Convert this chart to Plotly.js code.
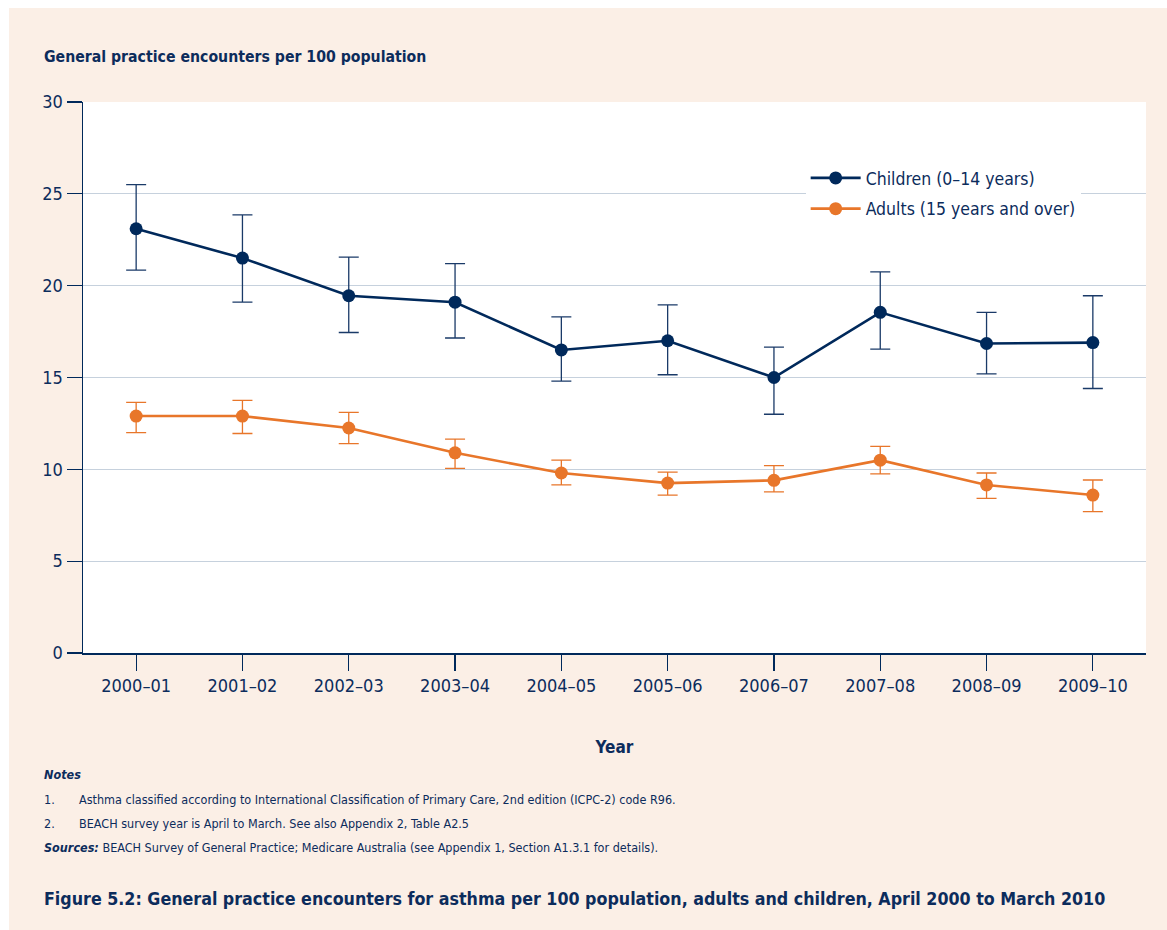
<!DOCTYPE html>
<html>
<head>
<meta charset="utf-8">
<script src="https://cdn.plot.ly/plotly-3.0.1.min.js"></script>
<style>
  html, body { margin: 0; padding: 0; background: #ffffff; width: 1167px; height: 930px; overflow: hidden; }
  #chart { position: absolute; left: 9px; top: 8px; width: 1158px; height: 922px; }
</style>
</head>
<body>
<div id="chart"></div>
<script>
// ---- data ----
const years = ['2000–01', '2001–02', '2002–03', '2003–04', '2004–05', '2005–06', '2006–07', '2007–08', '2008–09', '2009–10'];

const childrenRate  = [23.1, 21.5, 19.45, 19.1, 16.5, 17.0, 15.0, 18.55, 16.85, 16.9];
const childrenUpper = [25.5, 23.85, 21.55, 21.2, 18.3, 18.95, 16.65, 20.75, 18.55, 19.45];
const childrenLower = [20.85, 19.1, 17.45, 17.15, 14.8, 15.15, 13.0, 16.55, 15.2, 14.4];

const adultsRate  = [12.9, 12.9, 12.25, 10.9, 9.8, 9.25, 9.4, 10.5, 9.15, 8.6];
const adultsUpper = [13.65, 13.75, 13.1, 11.65, 10.5, 9.85, 10.2, 11.25, 9.8, 9.42];
const adultsLower = [12.0, 11.95, 11.4, 10.05, 9.15, 8.6, 8.77, 9.75, 8.42, 7.7];

const seriesNames = ['Children (0–14 years)', 'Adults (15 years and over)'];
const yTicks = [0, 5, 10, 15, 20, 25, 30];

// ---- styles ----
const NAVY = '#00295b';
const NAVY_ERR = '#1a3a68';
const ORANGE = '#e8762a';
const TEXT = '#0c2c5c';
const GRID = '#c6d1dd';
const PEACH = '#fbefe6';
const FONT = '"DejaVu Sans Condensed", "Liberation Sans", sans-serif';

// geometry of the container (page pixels)
const divLeft = 9, divTop = 8, W = 1158, H = 922;
const plotL = 83, plotR = 1146.5, plotT = 102, plotB = 652.6;
const px = x => (x - plotL) / (plotR - plotL);
const py = y => (plotB - y) / (plotB - plotT);

function trace(name, vals, upper, lower, color, errColor) {
  return {
    type: 'scatter', mode: 'lines+markers', name: name,
    x: years, y: vals,
    line: { color: color, width: 2.6 },
    marker: { color: color, size: 13 },
    error_y: {
      type: 'data', symmetric: false,
      array: upper.map((u, i) => u - vals[i]),
      arrayminus: lower.map((l, i) => vals[i] - l),
      color: errColor, thickness: 1.3, width: 10
    },
    legendgroup: name
  };
}

const data = [
  trace(seriesNames[0], childrenRate, childrenUpper, childrenLower, NAVY, NAVY_ERR),
  trace(seriesNames[1], adultsRate, adultsUpper, adultsLower, ORANGE, ORANGE)
];

const ann = (text, xPage, yPage, size, extra) => Object.assign({
  text: text, xref: 'paper', yref: 'paper', x: px(xPage), y: py(yPage),
  xanchor: 'left', yanchor: 'middle', showarrow: false,
  font: { family: FONT, size: size, color: TEXT }
}, extra || {});

const layout = {
  width: W, height: H,
  paper_bgcolor: PEACH, plot_bgcolor: '#ffffff',
  margin: { l: plotL - divLeft, r: W - (plotR - divLeft), t: plotT - divTop, b: H - (plotB - divTop), pad: 0 },
  font: { family: FONT, color: TEXT, size: 18 },
  showlegend: true,
  legend: {
    x: px(806), y: py(160), xanchor: 'left', yanchor: 'top',
    bgcolor: '#ffffff', borderwidth: 0,
    font: { family: FONT, size: 17.5, color: TEXT },
    traceorder: 'grouped', tracegroupgap: 5, itemwidth: 50
  },
  xaxis: {
    type: 'category', range: [-0.5, 9.5], tickvals: years,
    showline: true, linecolor: NAVY, linewidth: 1.5,
    ticks: 'outside', ticklen: 16, tickwidth: 1.3, tickcolor: NAVY,
    showgrid: false, zeroline: false,
    tickfont: { family: FONT, size: 18, color: TEXT },
    ticklabelstandoff: 0,
    title: { text: '<b>Year</b>', font: { family: FONT, size: 17, color: TEXT }, standoff: 46 }
  },
  yaxis: {
    range: [0, 30], tickvals: yTicks,
    showline: true, linecolor: NAVY, linewidth: 1.5,
    ticks: 'outside', ticklen: 15, tickwidth: 1.3, tickcolor: NAVY,
    showgrid: true, gridcolor: GRID, gridwidth: 1, zeroline: false,
    tickfont: { family: FONT, size: 18, color: TEXT }
  },
  annotations: [
    ann('<b>General practice encounters per 100 population</b>', 42, 57, 15.7),
    ann('<b><i>Notes</i></b>', 42, 774, 12.5),
    ann('1.', 42, 799, 12.5),
    ann('Asthma classified according to International Classification of Primary Care, 2nd edition (ICPC-2) code R96.', 77, 799, 12.5),
    ann('2.', 42, 823, 12.5),
    ann('BEACH survey year is April to March. See also Appendix 2, Table A2.5', 77, 823, 12.5),
    ann('<b><i>Sources:</i></b> BEACH Survey of General Practice; Medicare Australia (see Appendix 1, Section A1.3.1 for details).', 42, 847, 12.5),
    ann('<b>Figure 5.2: General practice encounters for asthma per 100 population, adults and children, April 2000 to March 2010</b>', 42, 898, 17.7)
  ]
};

Plotly.newPlot('chart', data, layout, { displayModeBar: false, staticPlot: true });
</script>
</body>
</html>
